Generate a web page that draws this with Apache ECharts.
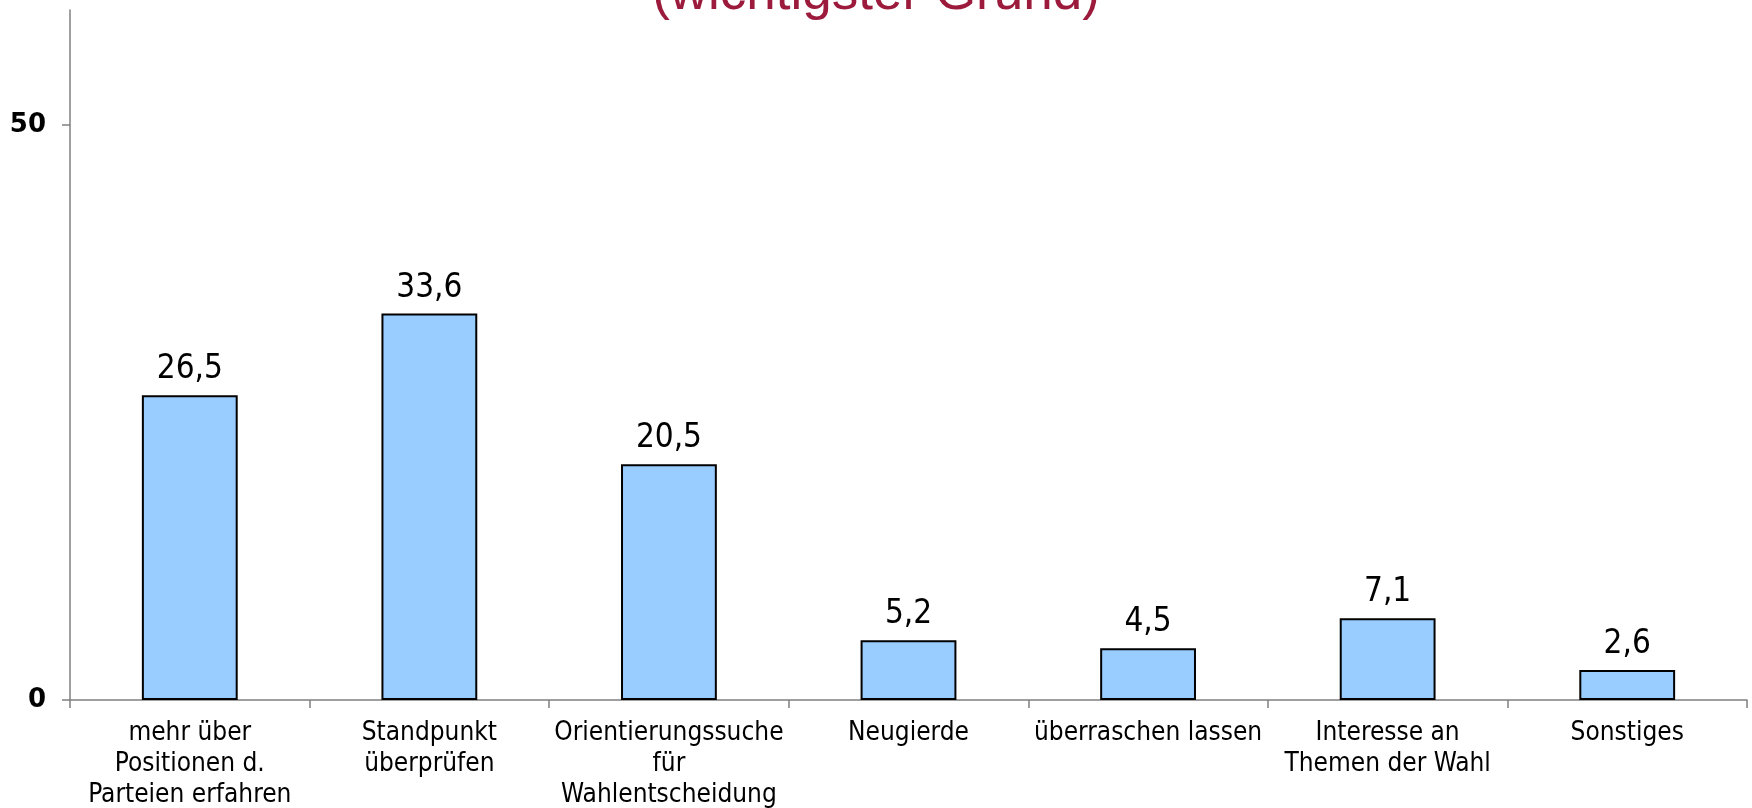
<!DOCTYPE html>
<html>
<head>
<meta charset="utf-8">
<script src="https://cdn.jsdelivr.net/npm/echarts@6/dist/echarts.min.js"></script>
<style>
  html, body { margin: 0; padding: 0; background: #ffffff; }
  #chart { width: 1752px; height: 808px; }
</style>
</head>
<body>
<div id="chart"></div>
<script>
// Gründe für die Nutzung (wichtigster Grund), Angaben in %
const categories = [
  'mehr über\nPositionen d.\nParteien erfahren',
  'Standpunkt\nüberprüfen',
  'Orientierungssuche\nfür\nWahlentscheidung',
  'Neugierde',
  'überraschen lassen',
  'Interesse an\nThemen der Wahl',
  'Sonstiges'
];
const values = [26.5, 33.6, 20.5, 5.2, 4.5, 7.1, 2.6];
const yTicks = [0, 50];
const titleText = '(wichtigster Grund)';

const chart = echarts.init(document.getElementById('chart'));

const option = {
  animation: false,
  backgroundColor: '#ffffff',
  title: {
    text: titleText,
    left: 'center',
    top: -32,
    padding: 0,
    textStyle: {
      fontFamily: 'Liberation Sans',
      fontSize: 53,
      fontWeight: 'normal',
      color: '#9c1a3c'
    }
  },
  grid: {
    left: 70,
    right: 5,
    top: 10,
    bottom: 108,
    outerBoundsMode: 'none',
    containLabel: false
  },
  xAxis: {
    type: 'category',
    data: categories,
    boundaryGap: true,
    axisLine: { lineStyle: { color: '#808080', width: 1.5 } },
    axisTick: { show: true, length: 8, lineStyle: { color: '#808080', width: 1.5 } },
    axisLabel: {
      interval: 0,
      margin: 18,
      color: '#000000',
      fontFamily: 'DejaVu Sans Condensed',
      fontSize: 26,
      lineHeight: 31
    },
    splitLine: { show: false }
  },
  yAxis: {
    type: 'value',
    min: 0,
    max: 60,
    interval: 10,
    axisLine: { show: true, lineStyle: { color: '#808080', width: 1.5 } },
    axisTick: {
      show: true,
      length: 8,
      customValues: yTicks,
      lineStyle: { color: '#808080', width: 1.5 }
    },
    axisLabel: {
      customValues: yTicks,
      margin: 24,
      color: '#000000',
      fontFamily: 'DejaVu Sans',
      fontWeight: 'bold',
      fontSize: 26
    },
    splitLine: { show: false }
  },
  series: [
    {
      type: 'bar',
      data: values,
      barWidth: '40%',
      itemStyle: {
        color: '#99ccff',
        borderColor: '#000000',
        borderWidth: 2
      },
      label: {
        show: true,
        position: 'top',
        distance: 9,
        color: '#000000',
        fontFamily: 'DejaVu Sans Condensed',
        fontSize: 33,
        formatter: p => String(p.value).replace('.', ',')
      }
    }
  ]
};

chart.setOption(option);
</script>
</body>
</html>
